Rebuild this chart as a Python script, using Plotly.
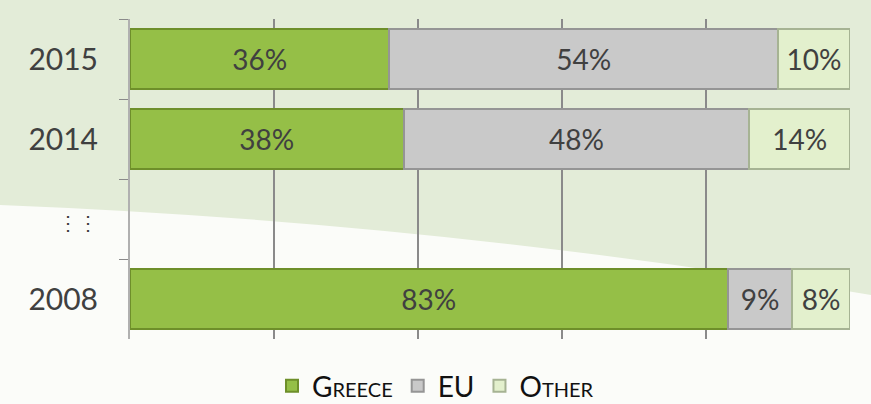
import plotly.graph_objects as go

# Share of holdings by year (percent)
years = ["2015", "2014", "<span style='font-size:20px'>⋮⋮</span>", "2008"]
greece = [36, 38, None, 83]
eu = [54, 48, None, 9]
other = [10, 14, None, 8]

series = [
    ("G<span style='font-size:20px'>REECE</span>", greece, "#95bf47", "#6e8f2a"),
    ("EU", eu, "#c9c9c9", "#959595"),
    ("O<span style='font-size:20px'>THER</span>", other, "#e3f0cd", "#a6b393"),
]

W, H = 871, 404
L, R, T, B = 130, 21, 19, 65
pw, ph = W - L - R, H - T - B


def px_x(v):
    return (v - L) / pw


def px_y(v):
    return (H - B - v) / ph


fig = go.Figure()
for name, vals, color, edge in series:
    fig.add_trace(go.Bar(
        y=years,
        x=vals,
        name=name,
        orientation='h',
        marker=dict(color=color, line=dict(color=edge, width=2)),
        text=[f"{v}%" if v is not None else "" for v in vals],
        textposition='inside',
        insidetextanchor='middle',
        textfont=dict(size=28, color='#404040', family='Lato'),
        hoverinfo='skip',
    ))

# light backdrop swoosh
fig.add_shape(
    type='path', xref='paper', yref='paper', layer='below',
    path=(f"M {px_x(0)},{px_y(205)} Q {px_x(435)},{px_y(222)} {px_x(871)},{px_y(295)} "
          f"L {px_x(871)},{px_y(404)} L {px_x(0)},{px_y(404)} Z"),
    fillcolor='#fbfcf9', line=dict(width=0),
)

fig.update_layout(
    width=W, height=H,
    barmode='stack',
    bargap=0.26,
    paper_bgcolor='#e3ecd8',
    plot_bgcolor='rgba(0,0,0,0)',
    margin=dict(l=L, r=R, t=T, b=B, autoexpand=False),
    font=dict(family='Lato', color='#404040'),
    showlegend=True,
    legend=dict(
        orientation='h', xref='container', x=0.5, xanchor='center',
        yref='container', y=(H - 386) / H, yanchor='middle',
        font=dict(size=28, color='#111111'), bgcolor='rgba(0,0,0,0)',
        traceorder='normal', itemwidth=30,
    ),
    xaxis=dict(
        range=[0, 100], showticklabels=False, ticks='',
        showgrid=True, gridcolor='#8a8a8a', gridwidth=1.5,
        tickvals=[20, 40, 60, 80], zeroline=False, fixedrange=True,
    ),
    yaxis=dict(
        categoryorder='array', categoryarray=years, autorange='reversed',
        tickfont=dict(size=30, color='#404040'), ticks='outside',
        tickson='boundaries', ticklen=9, tickcolor='#8a8a8a',
        ticklabelstandoff=24,
        showline=True, linecolor='#b0b0b0', linewidth=2,
        showgrid=False, fixedrange=True, automargin=False,
    ),
)

fig.write_html("out.html", config={'displayModeBar': False},
               post_script="document.body.style.margin='0';")
